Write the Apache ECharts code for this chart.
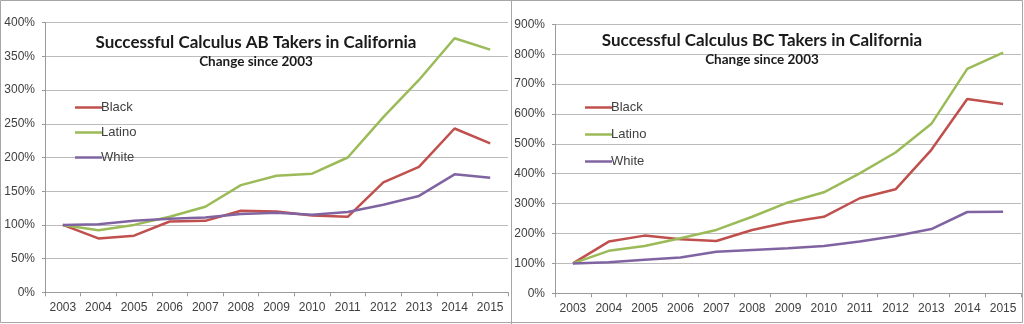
<!DOCTYPE html>
<html>
<head>
<meta charset="utf-8">
<script src="https://cdn.jsdelivr.net/npm/echarts@6/dist/echarts.min.js"></script>
<style>
  html, body { margin: 0; padding: 0; background: #ffffff; }
  #chart { width: 1024px; height: 324px; }
</style>
</head>
<body>
<div id="chart"></div>
<script>
// Years shown on both x axes
const years = ['2003','2004','2005','2006','2007','2008','2009','2010','2011','2012','2013','2014','2015'];

// Calculus AB: successful takers relative to 2003 (%)
const abBlack  = [100, 80, 84, 105, 106, 121, 120, 114, 112, 163, 186, 243, 221];
const abLatino = [100, 92, 100, 112, 127, 159, 173, 176, 200, 260, 315, 377, 360];
const abWhite  = [100, 101, 106, 109, 111, 116, 118, 115, 119, 130, 143, 175, 170];

// Calculus BC: successful takers relative to 2003 (%)
const bcBlack  = [100, 173, 193, 181, 175, 212, 238, 256, 318, 348, 480, 650, 633];
const bcLatino = [100, 142, 158, 184, 212, 256, 304, 338, 401, 471, 567, 751, 805];
const bcWhite  = [100, 104, 112, 120, 139, 145, 151, 158, 173, 192, 215, 272, 273];

const groups = ['Black', 'Latino', 'White'];
const colors = { Black: '#c0504d', Latino: '#9bbb59', White: '#8064a2' };

const chartTitles = ['Successful Calculus AB Takers in California', 'Successful Calculus BC Takers in California'];
const chartSubtitle = 'Change since 2003';

const labelColor = '#404040';
const gridColor = '#bcbcbc';
const axisColor = '#9a9a9a';
const font = 'Liberation Sans, Arial, sans-serif';
const titleFont = 'Lato, Liberation Sans, sans-serif';

function xAxis(gridIndex) {
  return {
    type: 'category', gridIndex, data: years, boundaryGap: true,
    axisLine: { lineStyle: { color: axisColor, width: 1 } },
    axisTick: { show: true, length: 4, alignWithLabel: false, lineStyle: { color: axisColor } },
    axisLabel: { color: labelColor, fontSize: 12, fontFamily: font, margin: 9, interval: 0 },
    splitLine: { show: false }
  };
}
function yAxis(gridIndex, max, interval) {
  return {
    type: 'value', gridIndex, min: 0, max, interval,
    axisLine: { show: true, lineStyle: { color: axisColor, width: 1 } },
    axisTick: { show: true, length: 3, lineStyle: { color: axisColor } },
    axisLabel: { color: labelColor, fontSize: 12, fontFamily: font, margin: 10, formatter: v => v + '%' },
    splitLine: { show: true, lineStyle: { color: gridColor, width: 1 } }
  };
}
function line(name, data, idx) {
  return {
    name, type: 'line', data, xAxisIndex: idx, yAxisIndex: idx,
    symbol: 'none', smooth: false, animation: false,
    lineStyle: { color: colors[name], width: 2.5 },
    itemStyle: { color: colors[name] }
  };
}
function legend(left, top, gap) {
  return {
    orient: 'vertical', left, top, itemGap: gap, itemWidth: 27, itemHeight: 14,
    data: groups.map(g => ({ name: g, icon: 'path://M0,6 L27,6 L27,8.5 L0,8.5 Z' })),
    selectedMode: false,
    textStyle: { color: labelColor, fontSize: 13, fontFamily: font, padding: [0, 0, 0, -6] }
  };
}
function title(text, centerX, top) {
  return {
    text, subtext: chartSubtitle, left: centerX, top, textAlign: 'center', itemGap: 4,
    textStyle: { color: '#1a1a1a', fontSize: 17, fontWeight: 'bold', fontFamily: titleFont },
    subtextStyle: { color: '#1a1a1a', fontSize: 13.5, fontWeight: 'bold', fontFamily: titleFont }
  };
}

const chart = echarts.init(document.getElementById('chart'), null, { renderer: 'canvas' });
chart.setOption({
  backgroundColor: '#ffffff',
  animation: false,
  title: [title(chartTitles[0], 251, 29), title(chartTitles[1], 757, 27)],
  legend: [legend(70, 96, 12), legend(580, 96, 14)],
  grid: [
    { left: 45, right: 516, top: 22.7, bottom: 31.7 },
    { left: 555, right: 3, top: 24.3, bottom: 30.7 }
  ],
  xAxis: [xAxis(0), xAxis(1)],
  yAxis: [yAxis(0, 400, 50), yAxis(1, 900, 100)],
  series: [
    line('Black', abBlack, 0), line('Latino', abLatino, 0), line('White', abWhite, 0),
    line('Black', bcBlack, 1), line('Latino', bcLatino, 1), line('White', bcWhite, 1)
  ],
  graphic: [
    { type: 'rect', shape: { x: 0.5, y: 0.5, width: 1022, height: 322 }, style: { fill: null, stroke: '#a6a6a6', lineWidth: 1 }, silent: true },
    { type: 'line', shape: { x1: 511.5, y1: 0, x2: 511.5, y2: 324 }, style: { stroke: '#a6a6a6', lineWidth: 1 }, silent: true }
  ]
});
</script>
</body>
</html>
